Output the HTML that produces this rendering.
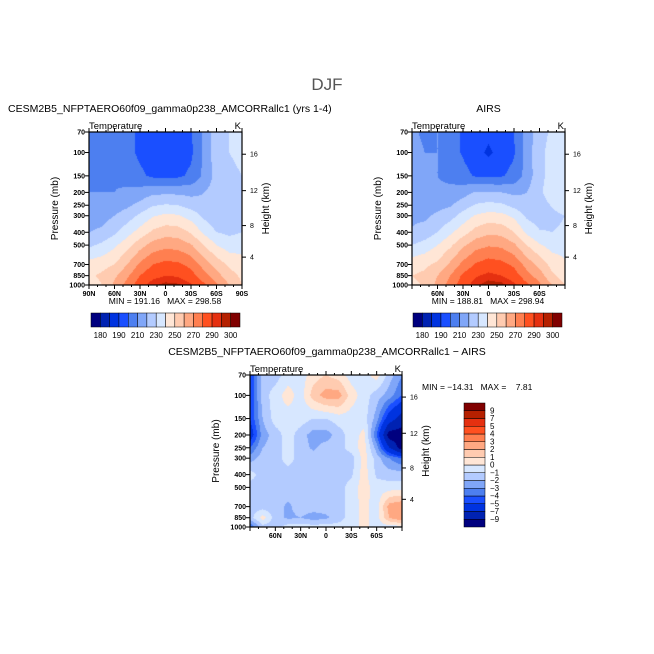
<!DOCTYPE html>
<html><head><meta charset="utf-8">
<style>
body{margin:0;background:#fff;}
#root{position:relative;width:654px;height:654px;overflow:hidden;background:#fff;font-family:"Liberation Sans",sans-serif;color:#000;}
.t{position:absolute;white-space:nowrap;line-height:1;}
canvas{position:absolute;}
svg{position:absolute;left:0;top:0;}
svg text{white-space:pre;}
</style></head>
<body>
<div id="root">
<div class="t" style="left:0;width:654px;text-align:center;top:76px;font-size:17px;color:#555;">DJF</div>
<div class="t" style="left:8px;top:104px;font-size:10.5px;">CESM2B5_NFPTAERO60f09_gamma0p238_AMCORRallc1 (yrs 1-4)</div>
<div class="t" style="left:412px;width:153px;text-align:center;top:104px;font-size:10.5px;">AIRS</div>
<div class="t" style="left:0;width:654px;text-align:center;top:347px;font-size:10.5px;">CESM2B5_NFPTAERO60f09_gamma0p238_AMCORRallc1 − AIRS</div>
<canvas id="c1" width="153" height="153" style="left:89px;top:132px"></canvas>
<canvas id="c2" width="153" height="153" style="left:412px;top:132px"></canvas>
<canvas id="c3" width="152" height="152" style="left:250px;top:375px"></canvas>
<svg id="ov" width="654" height="654"></svg>
</div>
<script>
// ---- data ----
const lats = [90,75,60,45,30,15,0,-15,-30,-45,-60,-75,-90];
const pLevels = [1000,850,700,500,400,300,250,200,150,100,70];
const modelT = [
[244,250,262,274,286,294,297,296,291,282,272,260,250],
[248,252,258,268,280,287,290,289,284,274,264,254,248],
[244,246,250,260,272,280,283,282,277,266,256,248,244],
[228,232,238,246,256,264,267,266,261,250,240,235,236],
[220,222,228,236,244,252,256,255,249,238,230,228,230],
[215,216,220,225,232,239,242,241,236,228,223,224,226],
[213,213,215,218,223,229,231,230,226,222,222,224,226],
[210,210,210,212,214,218,218,218,217,220,224,226,228],
[209,209,209,206,202,198,197,198,202,212,224,228,230],
[207,208,208,203,198,195,194,195,198,212,226,230,232],
[206,207,208,203,198,195,194,195,199,212,226,230,232]];
const airsT = [
[248,251,263,274,286,294,298,297,292,282,272,260,250],
[250,252,260,270,282,289,292,290,285,274,265,252,245],
[246,248,252,262,273,281,285,283,278,266,257,246,241],
[230,234,240,248,258,266,269,268,262,250,241,236,237],
[221,224,230,238,246,254,258,257,250,238,231,230,232],
[218,218,222,226,234,241,244,243,238,228,225,227,230],
[217,216,217,219,225,231,233,232,227,222,225,231,236],
[216,214,212,213,216,221,221,220,218,220,228,236,238],
[214,212,210,207,203,199,198,199,203,214,227,234,238],
[212,210,210,204,199,194,188,194,199,214,228,233,236],
[211,209,210,204,199,195,193,195,200,214,226,232,234]];
const diffT = [
[-4,-1.5,-1.5,-0.5,-0.5,-0.5,-0.5,-0.5,-0.5,0.3,-0.5,-0.5,-0.5],
[-1.5,0.5,-1.5,-2.2,-2,-2.5,-2.2,-1.5,-0.5,0.3,-0.5,2,3],
[-1.5,-1.5,-1.5,-2.2,-1.5,-1.5,-1.5,-1.5,-0.5,0.3,-0.5,2.5,3],
[-1.5,-1.5,-1.5,-1.5,-1.5,-1.5,-1.5,-1.5,-0.5,0.5,-0.5,-0.5,-0.5],
[-0.5,-1.5,-1.5,-1.5,-1.5,-1.5,-1.5,-1.5,-1.2,0.5,-1.2,-1.5,-1.5],
[-2.5,-1.5,-1.5,-0.5,-1.5,-1.5,-1.5,-1.5,-1.5,0.5,-1.5,-3,-4],
[-4,-2,-1.5,-0.5,-1.5,-2.2,-1.5,-1.5,-0.5,0.5,-2.5,-7,-10],
[-6,-2.5,-1.5,-0.5,-1.5,-2.5,-2.5,-1.5,-0.5,0.3,-4,-10,-10],
[-5,-2,-0.5,-0.5,-0.5,-1,-1,-0.5,-0.5,-0.5,-2.5,-6,-8],
[-5,-1.5,-0.5,0.5,-0.5,1.5,2.5,2.5,0.5,-0.5,-1.5,-2.5,-4],
[-5,-1.5,-1.5,-0.5,-0.5,0.5,1,0.5,-0.5,-0.5,0.5,-1.5,-3]];
const tLevels = [180,185,190,200,210,220,230,240,250,260,270,280,290,295,300];
const tLabels = ["180","190","210","230","250","270","290","300"];
const dLevels = [-9,-7,-5,-4,-3,-2,-1,0,1,2,3,4,5,7,9];
const dLabels = ["-9","-7","-5","-4","-3","-2","-1","0","1","2","3","4","5","7","9"];
const pTicks = [1000,850,700,500,400,300,250,200,150,100,70];
const hTicks = [4,8,12,16];
const hTickP = [616,356,194,103];
const latTicksFull = ["90N","60N","30N","0","30S","60S","90S"];
const latTicksFullVal = [90,60,30,0,-30,-60,-90];
const latTicksObs = ["60N","30N","0","30S","60S"];
const latTicksObsVal = [60,30,0,-30,-60];
const colors = ["#00007f","#0022b2","#0033e0","#1a4fff","#4d7ff0","#80a6f8","#b3cbff","#d7e7ff","#ffe6d6","#ffcbb0","#ffa882","#ff7f50","#ff5020","#e53010","#b52000","#800000"];

// ---- helpers ----
const NS="http://www.w3.org/2000/svg";
const ov=document.getElementById('ov');
function el(tag,attrs){const e=document.createElementNS(NS,tag);for(const k in attrs)e.setAttribute(k,attrs[k]);ov.appendChild(e);return e;}
const LP0=Math.log(1000),LP1=Math.log(70);
function yOf(p,top,h){return top+h*(Math.log(p)-LP1)/(LP0-LP1);}
function xOf(lat,left,w){return left+w*(90-lat)/180;}
const lps=pLevels.map(p=>Math.log(p));
function interp(grid,lat,lp){
  let fi=(90-lat)/15; let i=Math.max(0,Math.min(Math.floor(fi),lats.length-2)); let fx=fi-i;
  let j=0;
  while(j<lps.length-2 && lp<lps[j+1]) j++;
  let fy=(lps[j]-lp)/(lps[j]-lps[j+1]); fy=Math.max(0,Math.min(1,fy));
  const a=grid[j][i],b=grid[j][i+1],c=grid[j+1][i],d=grid[j+1][i+1];
  return (a*(1-fx)+b*fx)*(1-fy)+(c*(1-fx)+d*fx)*fy;
}
function colIdx(v,levels){let k=0;while(k<levels.length&&v>=levels[k])k++;return k;}
function fill(id,grid,levels){
  const cv=document.getElementById(id),ctx=cv.getContext('2d'),W=cv.width,H=cv.height;
  for(let py=0;py<H;py++){const lpp=LP1+(py+0.5)/H*(LP0-LP1);
    for(let px=0;px<W;px++){const lat=90-(px+0.5)/W*180;
      ctx.fillStyle=colors[colIdx(interp(grid,lat,lpp),levels)];ctx.fillRect(px,py,1,1);}}
}
function txt(x,y,s,size,anchor,name,extra){const t=el('text',{x:x,y:y,'font-size':size,'text-anchor':anchor||'start','font-family':'Liberation Sans, sans-serif'});t.textContent=s;
  
  
  if(extra)for(const k in extra)t.setAttribute(k,extra[k]);return t;}
function panel(left,top,w,h,xl,xv,prefix){
  const r=el('rect',{x:left,y:top,width:w,height:h,fill:'none',stroke:'#000','stroke-width':1.2});
  
  
  pTicks.forEach(p=>{const y=yOf(p,top,h);
    el('line',{x1:left-4,x2:left,y1:y,y2:y,stroke:'#000'});
    txt(left-4,y+2.5,String(p),7,'end',prefix+'-pressure-tick-label',{'font-weight':'bold'});});
  hTicks.forEach((hk,k)=>{const y=yOf(hTickP[k],top,h);
    el('line',{x1:left+w,x2:left+w+4,y1:y,y2:y,stroke:'#000'});
    txt(left+w+8,y+2.5,String(hk),7,'start',prefix+'-height-tick-label');});
  for(let lat=90;lat>=-90;lat-=10){const x=xOf(lat,left,w);const L=(lat%30===0)?4:2;
    el('line',{x1:x,x2:x,y1:top+h,y2:top+h+L,stroke:'#000'});
    el('line',{x1:x,x2:x,y1:top,y2:top-L,stroke:'#000'});}
  xl.forEach((s,k)=>txt(xOf(xv[k],left,w),top+h+11,s,7,'middle',prefix+'-lat-tick-label',{'font-weight':'bold'}));
  txt(left,top-3,'Temperature',9.5,'start',prefix+'-variable-label');
  txt(left+w-1,top-3,'K',9.5,'end',prefix+'-units-label');
  txt(left-31,top+h/2,'Pressure (mb)',10,'middle',prefix+'-y-axis-title',{transform:`rotate(-90 ${left-31} ${top+h/2})`});
  txt(left+w+27,top+h/2,'Height (km)',10,'middle',prefix+'-right-axis-title',{transform:`rotate(-90 ${left+w+27} ${top+h/2})`});
}
function hbar(left,top,w,h,prefix){
  const bw=w/colors.length;
  colors.forEach((c,k)=>{const r=el('rect',{x:left+k*bw,y:top,width:bw,height:h,fill:c,stroke:'#000','stroke-width':0.5});
    
    });
  const idx=[0,2,4,6,8,10,12,14];
  idx.forEach((li,k)=>txt(left+(li+1)*bw,top+h+11,tLabels[k],8,'middle',prefix+'-colorbar-label'));
}
fill('c1',modelT,tLevels);fill('c2',airsT,tLevels);fill('c3',diffT,dLevels);
panel(89,132,153,153,latTicksFull,latTicksFullVal,'model');
panel(412,132,153,153,latTicksObs,latTicksObsVal,'airs');
panel(250,375,152,152,latTicksObs,latTicksObsVal,'diff');
txt(165,304,'MIN = 191.16   MAX = 298.58',8.5,'middle','model-min-max');
txt(488,304,'MIN = 188.81   MAX = 298.94',8.5,'middle','airs-min-max');
txt(422,390,'MIN = −14.31   MAX =    7.81',8.5,'start','diff-min-max');
hbar(91,313,149,14,'model');
hbar(413,313,149,14,'airs');
(function(){const left=464,top=403,w=21,h=124,bh=h/colors.length;
  colors.forEach((c,k)=>{const r=el('rect',{x:left,y:top+(colors.length-1-k)*bh,width:w,height:bh,fill:c,stroke:'#000','stroke-width':0.5});
    
    });
  dLevels.forEach((v,k)=>txt(left+w+5,top+(colors.length-1-k)*bh+2.5,dLabels[k].replace('-','−'),8,'start','diff-colorbar-label'));
})();
</script>
</body></html>
